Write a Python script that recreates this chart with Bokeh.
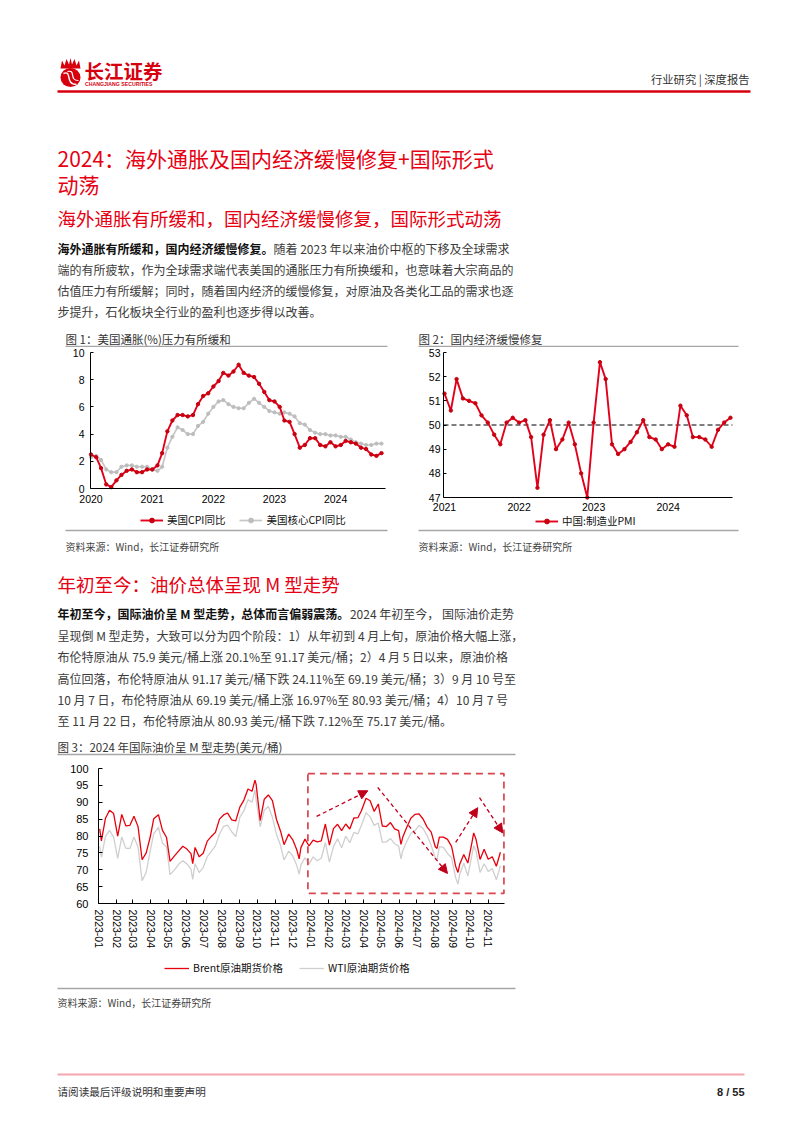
import pandas as pd
from bokeh.plotting import figure
from bokeh.layouts import column, row
from bokeh.models import (Range1d, FixedTicker, DatetimeTickFormatter, Legend, LegendItem,
                          BoxAnnotation, Arrow, NormalHead, ColumnDataSource)
from bokeh.core.properties import value
from bokeh.embed import file_html
from bokeh.resources import INLINE

# ---------------- data ----------------
cpi_start = "2020-01"
us_cpi = [2.5, 2.3, 1.5, 0.3, 0.1, 0.6, 1.0, 1.3, 1.4, 1.2, 1.2, 1.4,
          1.4, 1.7, 2.6, 4.2, 5.0, 5.4, 5.4, 5.3, 5.4, 6.2, 6.8, 7.0,
          7.5, 7.9, 8.5, 8.3, 8.6, 9.1, 8.5, 8.3, 8.2, 7.7, 7.1, 6.5,
          6.4, 6.0, 5.0, 4.9, 4.0, 3.0, 3.2, 3.7, 3.7, 3.2, 3.1, 3.4,
          3.1, 3.2, 3.5, 3.4, 3.3, 3.0, 2.9, 2.5, 2.4, 2.6]
us_core_cpi = [2.3, 2.4, 2.1, 1.4, 1.2, 1.2, 1.6, 1.7, 1.7, 1.6, 1.6, 1.6,
               1.4, 1.3, 1.6, 3.0, 3.8, 4.5, 4.3, 4.0, 4.0, 4.6, 4.9, 5.5,
               6.0, 6.4, 6.5, 6.2, 6.0, 5.9, 5.9, 6.3, 6.6, 6.3, 6.0, 5.7,
               5.6, 5.5, 5.6, 5.5, 5.3, 4.8, 4.7, 4.3, 4.1, 4.0, 4.0, 3.9,
               3.9, 3.8, 3.8, 3.6, 3.4, 3.3, 3.2, 3.2, 3.3, 3.3]
cpi_year_ticks = ["2020", "2021", "2022", "2023", "2024"]
cpi_y_ticks = [0, 2, 4, 6, 8, 10]

pmi_start = "2021-01"
china_pmi = [51.3, 50.6, 51.9, 51.1, 51.0, 50.9, 50.4, 50.1, 49.6, 49.2, 50.1, 50.3,
             50.1, 50.2, 49.5, 47.4, 49.6, 50.2, 49.0, 49.4, 50.1, 49.2, 48.0, 47.0,
             50.1, 52.6, 51.9, 49.2, 48.8, 49.0, 49.3, 49.7, 50.2, 49.5, 49.4, 49.0,
             49.2, 49.1, 50.8, 50.4, 49.5, 49.5, 49.4, 49.1, 49.8, 50.1, 50.3]
pmi_year_ticks = ["2021", "2022", "2023", "2024"]
pmi_y_ticks = [47, 48, 49, 50, 51, 52, 53]
pmi_reference = 50

oil_dates = ["2023-01-03", "2023-01-06", "2023-01-13", "2023-01-20", "2023-01-27",
             "2023-02-03", "2023-02-10", "2023-02-17", "2023-02-24",
             "2023-03-03", "2023-03-10", "2023-03-17", "2023-03-24", "2023-03-31",
             "2023-04-06", "2023-04-14", "2023-04-21", "2023-04-28",
             "2023-05-04", "2023-05-12", "2023-05-19", "2023-05-26",
             "2023-06-02", "2023-06-09", "2023-06-12", "2023-06-16", "2023-06-23", "2023-06-30",
             "2023-07-07", "2023-07-14", "2023-07-21", "2023-07-28",
             "2023-08-04", "2023-08-11", "2023-08-18", "2023-08-25",
             "2023-09-01", "2023-09-08", "2023-09-15", "2023-09-22", "2023-09-27", "2023-09-29",
             "2023-10-06", "2023-10-13", "2023-10-20", "2023-10-27",
             "2023-11-03", "2023-11-10", "2023-11-16", "2023-11-24",
             "2023-12-01", "2023-12-08", "2023-12-12", "2023-12-15", "2023-12-22", "2023-12-29",
             "2024-01-05", "2024-01-12", "2024-01-19", "2024-01-26",
             "2024-02-02", "2024-02-09", "2024-02-16", "2024-02-23",
             "2024-03-01", "2024-03-08", "2024-03-15", "2024-03-22", "2024-03-28",
             "2024-04-05", "2024-04-12", "2024-04-19", "2024-04-26",
             "2024-05-03", "2024-05-10", "2024-05-17", "2024-05-24", "2024-05-31",
             "2024-06-04", "2024-06-07", "2024-06-14", "2024-06-21", "2024-06-28",
             "2024-07-05", "2024-07-12", "2024-07-19", "2024-07-26",
             "2024-08-02", "2024-08-05", "2024-08-09", "2024-08-16", "2024-08-23", "2024-08-30",
             "2024-09-06", "2024-09-10", "2024-09-13", "2024-09-20", "2024-09-27",
             "2024-10-04", "2024-10-07", "2024-10-11", "2024-10-18", "2024-10-25",
             "2024-11-01", "2024-11-08", "2024-11-15", "2024-11-22"]
brent = [82.10, 78.57, 85.28, 87.63, 86.66,
         79.94, 86.39, 83.00, 83.16,
         85.83, 82.78, 72.97, 74.99, 79.77,
         85.12, 86.31, 81.66, 79.54,
         72.50, 74.17, 75.58, 76.95,
         76.13, 74.79, 71.84, 76.61, 73.85, 74.90,
         78.47, 79.87, 81.07, 84.99,
         86.24, 86.81, 84.80, 84.48,
         88.55, 90.65, 93.93, 93.27, 96.55, 95.31,
         84.58, 90.89, 92.16, 90.48,
         84.89, 81.43, 77.42, 80.58,
         78.88, 75.84, 73.24, 76.55, 79.07, 77.04,
         78.76, 78.29, 78.56, 83.55,
         77.33, 82.19, 83.47, 81.62,
         83.55, 82.08, 85.34, 85.43, 87.48,
         91.17, 90.45, 87.29, 89.50,
         82.96, 82.79, 83.98, 82.12, 81.62,
         77.52, 79.62, 82.62, 85.24, 86.41,
         86.54, 85.03, 82.63, 81.13,
         76.81, 76.30, 79.66, 79.68, 79.02, 76.93,
         71.06, 69.19, 71.61, 74.49, 71.98,
         78.05, 80.93, 79.04, 73.06, 76.05,
         73.10, 73.87, 71.04, 75.17]
wti = [76.93, 73.77, 79.86, 81.64, 79.68,
       73.39, 79.72, 76.34, 76.32,
       79.68, 76.68, 66.74, 69.26, 75.67,
       80.70, 82.52, 77.87, 76.78,
       68.56, 70.04, 71.69, 72.67,
       71.74, 70.17, 67.12, 71.78, 69.16, 70.64,
       73.86, 75.42, 77.07, 80.58,
       82.82, 83.19, 81.25, 79.83,
       85.55, 87.51, 90.77, 90.03, 93.68, 90.79,
       82.79, 87.69, 88.75, 85.54,
       80.51, 77.17, 72.90, 75.54,
       74.07, 71.23, 68.61, 71.43, 73.56, 71.65,
       73.81, 72.68, 73.41, 78.01,
       72.28, 76.84, 79.19, 76.49,
       79.97, 78.01, 81.04, 80.63, 83.17,
       86.91, 85.66, 83.14, 83.85,
       78.11, 78.26, 79.23, 77.72, 76.99,
       73.25, 75.53, 78.45, 80.73, 81.54,
       83.16, 82.21, 80.13, 77.16,
       73.52, 72.94, 76.84, 76.65, 74.83, 73.55,
       67.67, 65.75, 68.65, 71.92, 68.18,
       74.38, 77.14, 75.56, 69.22, 71.78,
       69.49, 70.38, 67.02, 71.24]
oil_month_ticks = ["2023-01", "2023-02", "2023-03", "2023-04", "2023-05", "2023-06",
                   "2023-07", "2023-08", "2023-09", "2023-10", "2023-11", "2023-12",
                   "2024-01", "2024-02", "2024-03", "2024-04", "2024-05", "2024-06",
                   "2024-07", "2024-08", "2024-09", "2024-10", "2024-11"]
oil_y_ticks = [60, 65, 70, 75, 80, 85, 90, 95, 100]

# M-shape annotation (dashed arrows and dashed box)
arrow_from_date = ["2024-01-11", "2024-04-25", "2024-09-06", "2024-10-17"]
arrow_from_val = [85.8, 94.4, 78.1, 91.4]
arrow_to_date = ["2024-04-08", "2024-08-23", "2024-10-14", "2024-11-26"]
arrow_to_val = [93.4, 68.9, 88.4, 80.9]
box_dates = ["2023-12-27", "2024-11-28"]
box_vals = [63.0, 98.5]

# ---------------- styling helpers ----------------
CJK = "Noto Sans CJK SC"
LAT = "Liberation Sans"
RED = "#e60012"
W = 786


def ms(s):
    return pd.Timestamp(s).value / 1e6


def est_width(s, fs):
    w = 0.0
    for ch in s:
        if ord(ch) > 0x2E80:
            w += 1.0
        elif ch == " ":
            w += 0.224
        elif ch.isdigit():
            w += 0.553
        elif ch == "M":
            w += 0.84
        elif ch in ".,":
            w += 0.27
        elif ch == "%":
            w += 0.86
        elif ch == "/":
            w += 0.38
        elif ch in "()":
            w += 0.33
        elif ch.isupper():
            w += 0.65
        else:
            w += 0.52
    return w * fs


def page_fig(y0, y1):
    p = figure(width=W, height=y1 - y0, x_range=Range1d(0, W), y_range=Range1d(y1, y0),
               x_axis_type=None, y_axis_type=None, toolbar_location=None,
               output_backend="svg", min_border=0, outline_line_color=None,
               frame_align=False)
    p.grid.visible = False
    p.background_fill_color = "white"
    p.border_fill_color = "white"
    return p


def put(p, x, y, s, size, color="#3b3b3b", bold=False, align="left", font=CJK):
    p.text(x=[x], y=[y], text=[s], text_font=value(font), text_font_size=value(f"{size}px"),
           text_color=color, text_align=align, text_baseline="middle",
           text_font_style="bold" if bold else "normal")


def rule(p, x0, x1, y, color="#a6a6a6", width=1.3):
    p.segment(x0=[x0], y0=[y], x1=[x1], y1=[y], line_color=color, line_width=width)


def dt_fmt(f):
    return DatetimeTickFormatter(microseconds=f, milliseconds=f, seconds=f, minsec=f,
                                 minutes=f, hourmin=f, hours=f, days=f, months=f, years=f)


def chart_fig(box, xa, xb, pxa, pxb, ylo, yhi, py_hi, py_lo):
    """box = (left, top, right, bottom) of the figure on the page.
    The axes span [xa, xb] x [ylo, yhi]; they sit at page pixels pxa..pxb and py_lo..py_hi.
    The frame fills the whole figure so tick labels and legend are inside it."""
    left, top, right, bottom = box
    kx = (xb - xa) / (pxb - pxa)
    ky = (yhi - ylo) / (py_lo - py_hi)
    p = figure(width=right - left, height=bottom - top, x_axis_type="datetime",
               x_range=Range1d(xa - (pxa - left) * kx, xb + (right - pxb) * kx),
               y_range=Range1d(ylo - (bottom - py_lo) * ky, yhi + (py_hi - top) * ky),
               toolbar_location=None, output_backend="svg", frame_align=False,
               min_border=0)
    p.grid.visible = False
    p.outline_line_color = None
    p.background_fill_color = "white"
    p.border_fill_color = "white"
    p.xaxis.fixed_location = ylo
    p.xaxis.bounds = (xa, xb)
    p.yaxis.fixed_location = xa
    p.yaxis.bounds = (ylo, yhi)
    for ax in p.axis:
        ax.axis_line_color = "#000000"
        ax.axis_line_width = 1
        ax.major_tick_line_color = "#000000"
        ax.minor_tick_line_color = None
        ax.major_label_text_font = LAT
        ax.major_label_text_font_size = "10.5px"
        ax.major_label_text_color = "#000000"
    return p


def make_legend(items, loc, spacing, gw=23):
    return Legend(items=items, location=loc, orientation="horizontal",
                  label_text_font=CJK, label_text_font_size="10.5px", label_text_color="#111111",
                  glyph_width=gw, glyph_height=12, label_height=12, label_standoff=4,
                  spacing=spacing, padding=0, margin=0, border_line_color=None,
                  background_fill_alpha=0)


BODY = 12.0
BODY_C = "#3b3b3b"

# ---------------- band A: header, headings, paragraph 1, chart titles ----------------
pa = page_fig(0, 347)
pa.patch(x=[60, 61.5, 64, 66, 68.5, 70, 71.5, 74, 76, 78.5, 80, 60],
         y=[68, 60, 65, 58.5, 64, 57.5, 64, 58.5, 65, 60, 68, 68],
         fill_color="#d7000f", line_color=None)
pa.ellipse(x=[70], y=[77], width=[20], height=[19], fill_color="#d7000f", line_color=None)
pa.bezier(x0=[63], y0=[73], x1=[76], y1=[84], cx0=[72], cy0=[69], cx1=[64], cy1=[84],
          line_color="white", line_width=1.4)
pa.bezier(x0=[67], y0=[71], x1=[78], y1=[80], cx0=[76], cy0=[69], cx1=[68], cy1=[80],
          line_color="white", line_width=1.2)
put(pa, 84, 70, "长江证券", 19.5, color="#d7000f", bold=True)
put(pa, 84.5, 83.5, "CHANGJIANG SECURITIES", 5.2, color="#d7000f", bold=True, font=LAT)
put(pa, 749, 78.5, "行业研究 | 深度报告", 11.3, color="#333333", align="right")
rule(pa, 57, 750, 91, color="#d7000f", width=2.4)
put(pa, 57, 157, "2024：海外通胀及国内经济缓慢修复+国际形式", 21, color=RED)
put(pa, 57, 183, "动荡", 21, color=RED)
put(pa, 57, 217, "海外通胀有所缓和，国内经济缓慢修复，国际形式动荡", 18.5, color=RED)
p1_lead = "海外通胀有所缓和，国内经济缓慢修复。"
p1_lines = ["随着 2023 年以来油价中枢的下移及全球需求",
            "端的有所疲软，作为全球需求端代表美国的通胀压力有所换缓和，也意味着大宗商品的",
            "估值压力有所缓解；同时，随着国内经济的缓慢修复，对原油及各类化工品的需求也逐",
            "步提升，石化板块全行业的盈利也逐步得以改善。"]
p1_y = [247.5, 268.5, 289.5, 311]
put(pa, 57, p1_y[0], p1_lead, BODY, color="#111111", bold=True)
put(pa, 57 + est_width(p1_lead, BODY), p1_y[0], p1_lines[0], BODY, color=BODY_C)
for yy, s in zip(p1_y[1:], p1_lines[1:]):
    put(pa, 57, yy, s, BODY, color=BODY_C)
put(pa, 65, 338, "图 1：美国通胀(%)压力有所缓和", 11.5, color="#333333")
put(pa, 418, 338, "图 2：国内经济缓慢修复", 11.5, color="#333333")
rule(pa, 65, 387, 346)
rule(pa, 418, 738, 346)

# ---------------- band B: chart 1 and chart 2 ----------------
cpi_dates = pd.date_range(pd.Timestamp(cpi_start + "-01"), periods=len(us_cpi), freq="MS")
src1 = ColumnDataSource(dict(date=cpi_dates, cpi=us_cpi, core=us_core_cpi))
c1 = chart_fig((0, 347, 410, 528), ms("2019-12-29"), ms("2024-10-25"), 90, 385,
               cpi_y_ticks[0], cpi_y_ticks[-1], 352, 488)
r_core = c1.line("date", "core", source=src1, line_color="#c6c6c6", line_width=1.7)
s_core = c1.scatter("date", "core", source=src1, size=3.2, color="#bdbdbd")
r_cpi = c1.line("date", "cpi", source=src1, line_color="#e2001a", line_width=1.9)
s_cpi = c1.scatter("date", "cpi", source=src1, size=3.4, color="#c8000f")
c1.xaxis.ticker = FixedTicker(ticks=[ms(y + "-01-01") for y in cpi_year_ticks])
c1.xaxis.formatter = dt_fmt("%Y")
c1.xaxis.major_tick_in = 0
c1.xaxis.major_tick_out = 0
c1.xaxis.major_label_standoff = 6
c1.yaxis.ticker = FixedTicker(ticks=cpi_y_ticks)
c1.yaxis.major_tick_in = 3
c1.yaxis.major_tick_out = 0
c1.yaxis.major_label_standoff = 6
c1.add_layout(make_legend([LegendItem(label="美国CPI同比", renderers=[r_cpi, s_cpi]),
                           LegendItem(label="美国核心CPI同比", renderers=[r_core, s_core])],
                          (140, 1), 14))

pmi_dates = pd.date_range(pd.Timestamp(pmi_start + "-01"), periods=len(china_pmi), freq="MS")
src2 = ColumnDataSource(dict(date=pmi_dates, pmi=china_pmi))
pmi_x0, pmi_x1 = ms("2020-12-27"), ms("2024-11-11")
c2 = chart_fig((410, 347, 786, 528), pmi_x0, pmi_x1, 443, 732,
               pmi_y_ticks[0], pmi_y_ticks[-1], 352, 497)
c2.line(x=[pmi_x0, pmi_x1], y=[pmi_reference, pmi_reference], line_color="#000000",
        line_dash="5 3", line_width=1.2)
r_pmi = c2.line("date", "pmi", source=src2, line_color="#e2001a", line_width=1.9)
s_pmi = c2.scatter("date", "pmi", source=src2, size=3.4, color="#c8000f")
c2.xaxis.ticker = FixedTicker(ticks=[ms(y + "-01-01") for y in pmi_year_ticks])
c2.xaxis.formatter = dt_fmt("%Y")
c2.xaxis.major_tick_in = 0
c2.xaxis.major_tick_out = 0
c2.xaxis.major_label_standoff = 5
c2.yaxis.ticker = FixedTicker(ticks=pmi_y_ticks)
c2.yaxis.major_tick_in = 3
c2.yaxis.major_tick_out = 0
c2.yaxis.major_label_standoff = 3
c2.add_layout(make_legend([LegendItem(label="中国:制造业PMI", renderers=[r_pmi, s_pmi])],
                          (125, 0), 14))

# ---------------- band C: sources, section 2 text, chart 3 title ----------------
pc = page_fig(528, 758)
rule(pc, 65, 387, 530)
rule(pc, 418, 738, 530)
put(pc, 65, 546, "资料来源：Wind，长江证券研究所", 10, color="#444444")
put(pc, 418, 546, "资料来源：Wind，长江证券研究所", 10, color="#444444")
put(pc, 57, 583, "年初至今：油价总体呈现 M 型走势", 18.5, color=RED)
p2_lead = "年初至今，国际油价呈 M 型走势，总体而言偏弱震荡。"
p2_lines = ["2024 年初至今， 国际油价走势",
            "呈现倒 M 型走势，大致可以分为四个阶段：1）从年初到 4 月上旬，原油价格大幅上涨，",
            "布伦特原油从 75.9 美元/桶上涨 20.1%至 91.17 美元/桶；2）4 月 5 日以来，原油价格",
            "高位回落，布伦特原油从 91.17 美元/桶下跌 24.11%至 69.19 美元/桶；3）9 月 10 号至",
            "10 月 7 日，布伦特原油从 69.19 美元/桶上涨 16.97%至 80.93 美元/桶；4）10 月 7 号",
            "至 11 月 22 日，布伦特原油从 80.93 美元/桶下跌 7.12%至 75.17 美元/桶。"]
p2_y = [613, 634.5, 656, 677.5, 699, 720]
put(pc, 57, p2_y[0], p2_lead, BODY, color="#111111", bold=True)
put(pc, 57 + est_width(p2_lead, BODY) + 1, p2_y[0], p2_lines[0], BODY, color=BODY_C)
for yy, s in zip(p2_y[1:], p2_lines[1:]):
    put(pc, 57, yy, s, BODY, color=BODY_C)
put(pc, 57, 746, "图 3：2024 年国际油价呈 M 型走势(美元/桶)", 11.5, color="#333333")
rule(pc, 57, 515, 754)

# ---------------- band D: chart 3 ----------------
src3 = ColumnDataSource(dict(date=pd.to_datetime(oil_dates), brent=brent, wti=wti))
c3 = chart_fig((0, 758, W, 980), ms("2023-01-01"), ms("2024-11-29"), 98, 504,
               oil_y_ticks[0], oil_y_ticks[-1], 768, 903)
r_wti = c3.line("date", "wti", source=src3, line_color="#cfcfcf", line_width=1.3)
r_brent = c3.line("date", "brent", source=src3, line_color="#e8000d", line_width=1.3)
c3.xaxis.ticker = FixedTicker(ticks=[ms(m + "-01") for m in oil_month_ticks])
c3.xaxis.formatter = dt_fmt("%Y-%m")
c3.xaxis.major_label_orientation = "vertical"
c3.xaxis.major_tick_in = 4
c3.xaxis.major_tick_out = 0
c3.xaxis.major_label_standoff = 6
c3.yaxis.ticker = FixedTicker(ticks=oil_y_ticks)
c3.yaxis.major_tick_in = 4
c3.yaxis.major_tick_out = 0
c3.yaxis.major_label_standoff = 10
c3.yaxis.major_label_text_font_size = "11px"
c3.add_layout(BoxAnnotation(left=ms(box_dates[0]), right=ms(box_dates[1]),
                            bottom=box_vals[0], top=box_vals[1],
                            fill_color=None, fill_alpha=0, line_color="#d9464d", line_alpha=1.0,
                            line_dash="7 5", line_width=1.7))
arrow_src = ColumnDataSource(dict(x0=[ms(d) for d in arrow_from_date], y0=arrow_from_val,
                                  x1=[ms(d) for d in arrow_to_date], y1=arrow_to_val))
c3.add_layout(Arrow(end=NormalHead(size=9, fill_color="#c0001a", line_color="#c0001a"),
                    source=arrow_src, x_start="x0", y_start="y0", x_end="x1", y_end="y1",
                    line_color="#c0001a", line_dash="4 3", line_width=1.3))
c3.add_layout(make_legend([LegendItem(label="Brent原油期货价格", renderers=[r_brent]),
                           LegendItem(label="WTI原油期货价格", renderers=[r_wti])],
                          (164, 5), 16, gw=25))

# ---------------- band E: source, footer ----------------
pe = page_fig(980, 1125)
rule(pe, 57, 515, 988)
put(pe, 57, 1002, "资料来源：Wind，长江证券研究所", 10, color="#444444")
rule(pe, 57, 744, 1074, color="#f3a6ad", width=2)
put(pe, 57, 1091, "请阅读最后评级说明和重要声明", 10.6, color="#333333")
put(pe, 744, 1091, "8 / 55", 11, color="#222222", bold=True, align="right", font=LAT)

layout = column(pa, row(c1, c2, spacing=0), pc, c3, pe, spacing=0)
with open("out.html", "w", encoding="utf-8") as f:
    f.write(file_html(layout, INLINE, title="长江证券 行业研究"))
